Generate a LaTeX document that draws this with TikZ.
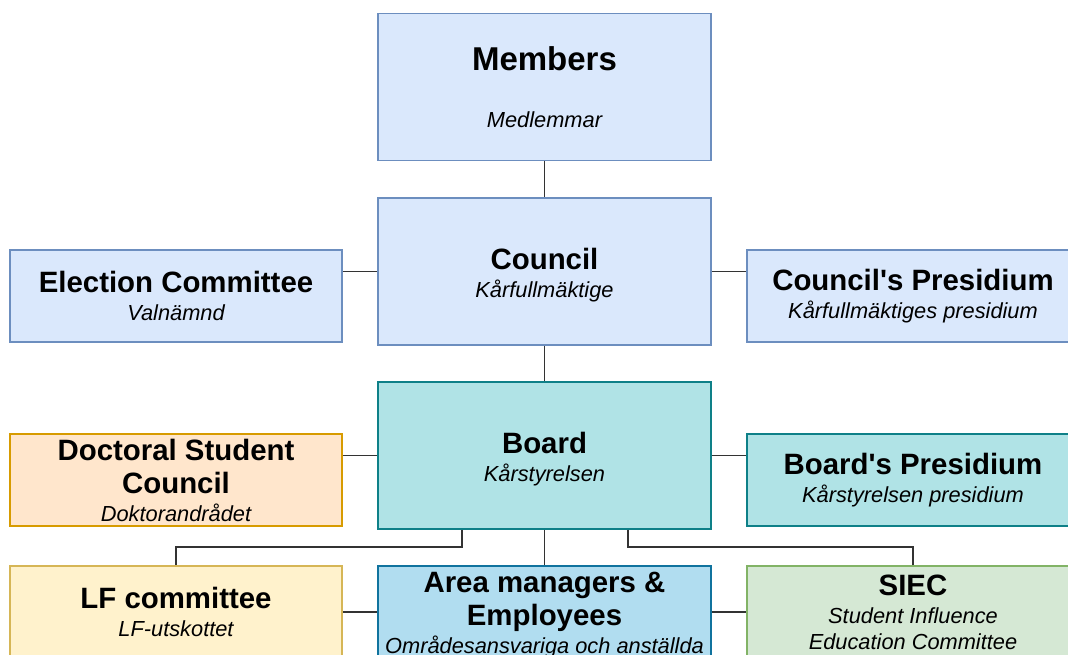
\documentclass[tikz,border=0pt]{standalone}
\usepackage{fontspec}
\setmainfont{Liberation Sans}[Ligatures=TeXOff]

\definecolor{blueFill}{HTML}{DAE8FC}
\definecolor{blueLine}{HTML}{6C8EBF}
\definecolor{tealFill}{HTML}{B0E3E6}
\definecolor{tealLine}{HTML}{0E8088}
\definecolor{orangeFill}{HTML}{FFE6CC}
\definecolor{orangeLine}{HTML}{D79B00}
\definecolor{yellowFill}{HTML}{FFF2CC}
\definecolor{yellowLine}{HTML}{D6B656}
\definecolor{skyFill}{HTML}{B1DDF0}
\definecolor{skyLine}{HTML}{10739E}
\definecolor{greenFill}{HTML}{D5E8D4}
\definecolor{greenLine}{HTML}{82B366}
\definecolor{wire}{HTML}{333333}

\newcommand{\orgsub}[1]{{\fontsize{21.8}{26}\selectfont\mdseries\itshape #1}}

\begin{document}
\begin{tikzpicture}[x=1pt,y=-1pt]
        \tikzstyle{unit}=[rectangle,line width=1.6pt,align=center,inner sep=0pt,
                          font=\fontsize{29.4}{33}\selectfont\bfseries]
        \tikzstyle{wide}=[unit,minimum width=333pt,minimum height=147pt]
        \tikzstyle{side}=[unit,minimum width=332pt,minimum height=92pt]
        \tikzstyle{edge}=[draw=wire,line width=1.6pt]

        \useasboundingbox (0,0) rectangle (1068,655);

        % centre column
        \node [wide,draw=blueLine,fill=blueFill] (members) at (544.5,87)
              {\fontsize{33}{36}\selectfont Members\\[24pt]\orgsub{Medlemmar}};
        \node [wide,text height=57pt,draw=blueLine,fill=blueFill] (council) at (544.5,271.5)
              {Council\\[-5pt]\orgsub{Kårfullmäktige}};
        \node [wide,text height=57pt,draw=tealLine,fill=tealFill] (board) at (544.5,455.5)
              {Board\\[-5pt]\orgsub{Kårstyrelsen}};
        \node [side,minimum width=333pt,text height=87pt,draw=skyLine,fill=skyFill] (area) at (544.5,612)
              {Area managers \&\\Employees\\[-5pt]\orgsub{Områdesansvariga och anställda}};

        % left column
        \node [side,draw=blueLine,fill=blueFill] (election) at (176,296)
              {Election Committee\\[-5pt]\orgsub{Valnämnd}};
        \node [side,draw=orangeLine,fill=orangeFill] (doctoral) at (176,480)
              {Doctoral Student\\Council\\[-5pt]\orgsub{Doktorandrådet}};
        \node [side,draw=yellowLine,fill=yellowFill] (lf) at (176,612)
              {LF committee\\[-5pt]\orgsub{LF-utskottet}};

        % right column
        \node [side,draw=blueLine,fill=blueFill] (cpres) at (913,296)
              {Council's Presidium\\[-5pt]\orgsub{Kårfullmäktiges presidium}};
        \node [side,draw=tealLine,fill=tealFill] (bpres) at (913,480)
              {Board's Presidium\\[-5pt]\orgsub{Kårstyrelsen presidium}};
        \node [side,draw=greenLine,fill=greenFill] (siec) at (913,612)
              {SIEC\\[-5pt]\orgsub{Student Influence}\\[-7pt]\orgsub{Education Committee}};

        \coordinate (busl) at (462,547);
        \coordinate (busr) at (628,547);

        \path[edge] (members) -- (council);
        \path[edge] (council) -- (board);
        \path[edge] (board) -- (area);
        \path[edge] (council.west) -- (council.west -| election.east);
        \path[edge] (council.east) -- (council.east -| cpres.west);
        \path[edge] (board.west) -- (board.west -| doctoral.east);
        \path[edge] (board.east) -- (board.east -| bpres.west);
        \path[edge] ([xshift=-82.5pt]board.south) -- (busl) -| (lf.north);
        \path[edge] ([xshift=83.5pt]board.south) -- (busr) -| (siec.north);
        \path[edge] (area.west) -- (area.west -| lf.east);
        \path[edge] (area.east) -- (area.east -| siec.west);
\end{tikzpicture}
\end{document}
